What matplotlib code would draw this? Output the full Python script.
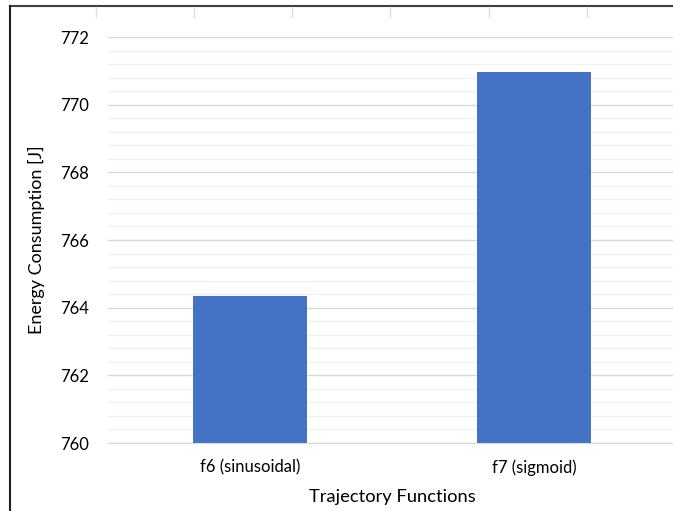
import matplotlib.pyplot as plt
from matplotlib.lines import Line2D
from matplotlib.ticker import MultipleLocator

# energy used by each trajectory function
functions = ['f6 (sinusoidal)', 'f7 (sigmoid)']
energy = [764.35, 770.97]

plt.rcParams['font.family'] = ['Lato', 'DejaVu Sans']

fig = plt.figure(figsize=(6.73, 5.11), dpi=100)
W, H = 673, 511

# plot area in pixel terms, then converted to figure fractions
left, right, top, bottom = 108, 676, 37, 443
ax = fig.add_axes([left / W, 1 - bottom / H, (right - left) / W, (bottom - top) / H])

x = range(len(functions))
ax.bar(x, energy, width=0.4, color='#4472C4', zorder=3)

ax.set_xlim(-0.5, len(functions) - 0.5)
ax.set_ylim(760, 772)
ax.yaxis.set_major_locator(MultipleLocator(2))
ax.yaxis.set_minor_locator(MultipleLocator(0.4))
ax.grid(which='major', axis='y', color='#d9d9d9', linewidth=1.0, zorder=0)
ax.grid(which='minor', axis='y', color='#f0f0f0', linewidth=1.0, zorder=0)

ax.set_xticks(list(x))
ax.set_xticklabels(functions)
for s in ['top', 'right', 'left']:
    ax.spines[s].set_visible(False)
ax.spines['bottom'].set_color('#d9d9d9')
ax.spines['bottom'].set_zorder(4)
ax.tick_params(axis='both', which='both', length=0, labelsize=12, colors='#000000')
ax.tick_params(axis='y', pad=14)
ax.tick_params(axis='x', pad=12)

ax.set_xlabel('Trajectory Functions', fontsize=13.2, labelpad=9)
ax.set_ylabel('Energy Consumption [J]', fontsize=13)
ax.yaxis.set_label_coords(45 / W, 1 - 240 / H, transform=fig.transFigure)

# chart frame edge and sheet cell lines behind it
fig.add_artist(Line2D([10 / W, 1], [1 - 6 / H, 1 - 6 / H], color='#404040', linewidth=1.5))
fig.add_artist(Line2D([10 / W, 10 / W], [0, 1 - 6 / H], color='#202020', linewidth=1.5))
for cx in [96, 194, 292, 390, 489, 587]:
    fig.add_artist(Line2D([cx / W, cx / W], [1 - 7 / H, 1 - 17 / H], color='#e0e0e0', linewidth=1.0))

fig.savefig('out.png', dpi=100)
